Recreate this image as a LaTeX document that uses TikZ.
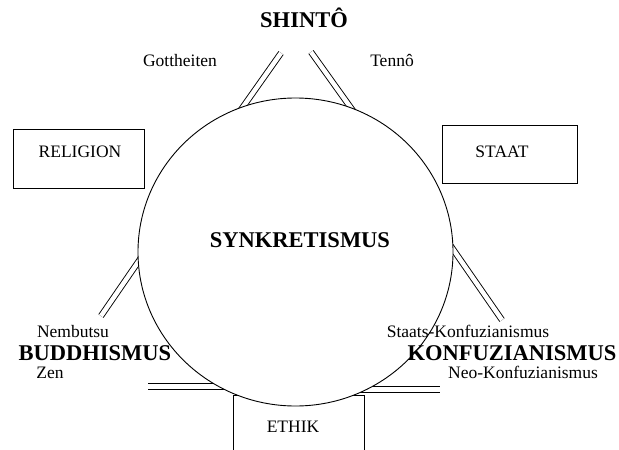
\documentclass[tikz,border=0pt]{standalone}
\usepackage{fontspec}
\setmainfont{Liberation Serif}
\usetikzlibrary{shapes.geometric}
\begin{document}
\begin{tikzpicture}[x=1pt,y=-1pt,
  lbl/.style={font=\fontsize{17.5}{20}\selectfont, inner sep=0pt, anchor=base},
  big/.style={font=\fontsize{22.5}{26}\selectfont\bfseries, inner sep=0pt, anchor=base},
  framebox/.style={draw, line width=0.9pt},
  dbl/.style={draw, double, double distance=4.5pt, line width=0.9pt}]
\useasboundingbox (0,0) rectangle (619,450);
% ETHIK box (open at bottom)
\coordinate (eA) at (233,450);
\coordinate (eB) at (233,395);
\coordinate (eC) at (364,395);
\coordinate (eD) at (364,450);
\draw[framebox] (eA) -- (eB) -- (eC) -- (eD);
% side boxes
\node[framebox, minimum width=131pt, minimum height=59pt, inner sep=0pt] (relbox) at (78.5,158.5) {};
\node[framebox, minimum width=135pt, minimum height=58pt, inner sep=0pt] (staatbox) at (509.5,154) {};
% double connectors
\coordinate (tl1) at (238,114); \coordinate (tl2) at (281,53);
\coordinate (tr1) at (311,52);  \coordinate (tr2) at (356,115);
\coordinate (bl1) at (145,252); \coordinate (bl2) at (101,316);
\coordinate (br1) at (448,242); \coordinate (br2) at (502,320);
\coordinate (hl1) at (148,386.5); \coordinate (hl2) at (240,386.5);
\coordinate (hr1) at (360,389.5); \coordinate (hr2) at (440,389.5);
\draw[dbl] (tl1) -- (tl2);
\draw[dbl] (tr1) -- (tr2);
\draw[dbl] (bl1) -- (bl2);
\draw[dbl] (br1) -- (br2);
\draw[dbl] (hl1) -- (hl2);
\draw[dbl] (hr1) -- (hr2);
% circle
\node[draw, line width=0.9pt, fill=white, ellipse, minimum width=315pt, minimum height=308pt, inner sep=0pt] (circ) at (295.5,252) {};
% texts
\node[big] (shinto) at (304,27) {SHINTÔ};
\node[lbl] (gott) at (180,66) {Gottheiten};
\node[lbl] (tenno) at (392,66) {Tennô};
\node[lbl] (rel) at (80,157) {RELIGION};
\node[lbl] (staat) at (502,157) {STAAT};
\node[big] (synk) at (300,247) {SYNKRETISMUS};
\node[lbl] (nemb) at (73,337) {Nembutsu};
\node[big] (budd) at (95,360) {BUDDHISMUS};
\node[lbl] (zen) at (50,378) {Zen};
\node[lbl] (staatsk) at (468,337) {Staats-Konfuzianismus};
\node[big] (konf) at (512,360) {KONFUZIANISMUS};
\node[lbl] (neok) at (523,378) {Neo-Konfuzianismus};
\node[lbl] (ethik) at (293,432) {ETHIK};
\end{tikzpicture}
\end{document}
